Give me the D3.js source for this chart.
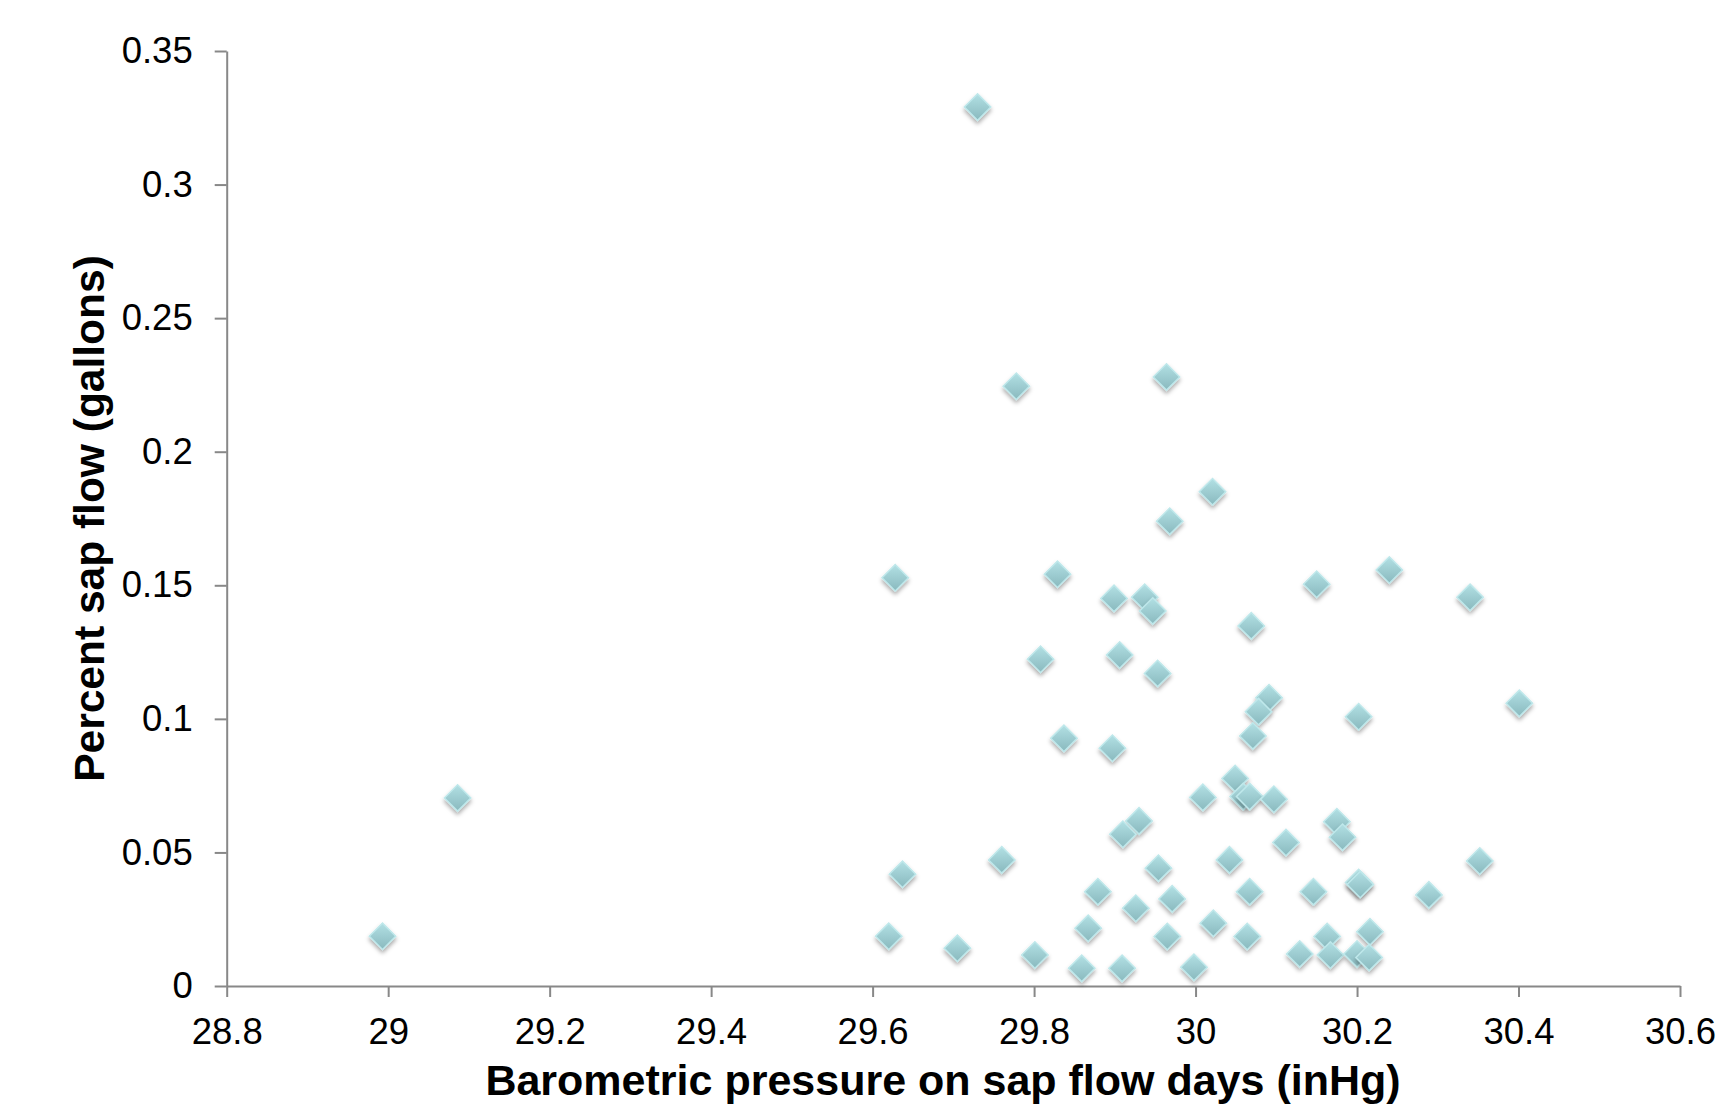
<!DOCTYPE html>
<html>
<head>
<meta charset="utf-8">
<script src="https://cdn.jsdelivr.net/npm/d3@7"></script>
<style>
  html, body { margin: 0; padding: 0; background: #fff; }
  svg { display: block; font-family: "Liberation Sans", Arial, sans-serif; }
</style>
</head>
<body>
<script>
'use strict';

// barometric pressure (inHg) for each sap flow day
const pressure = [
  29.730, 29.778, 29.964, 30.021, 29.968, 29.628, 29.829, 30.150, 30.240, 30.340,
  29.899, 29.937, 29.947, 30.069, 29.808, 29.906, 29.953, 30.091, 30.078, 30.401,
  30.202, 29.837, 30.071, 29.897, 29.086, 30.049, 30.009, 30.059, 30.067, 30.097,
  29.930, 29.910, 30.175, 30.182, 30.112, 29.760, 30.042, 30.352, 29.637, 29.954,
  30.202, 30.204, 29.879, 30.067, 30.146, 30.289, 29.971, 29.926, 30.022, 29.867,
  28.993, 29.620, 29.965, 30.064, 30.163, 30.216, 29.705, 29.801, 30.129, 30.167,
  30.200, 30.215, 29.859, 29.909, 29.998
];

// percent sap flow (gallons), same order
const sapFlow = [
  0.3290, 0.2245, 0.2280, 0.1850, 0.1740, 0.1528, 0.1541, 0.1504, 0.1557, 0.1455,
  0.1451, 0.1455, 0.1404, 0.1348, 0.1223, 0.1239, 0.1170, 0.1079, 0.1027, 0.1058,
  0.1008, 0.0927, 0.0936, 0.0890, 0.0704, 0.0777, 0.0706, 0.0709, 0.0709, 0.0699,
  0.0618, 0.0568, 0.0615, 0.0557, 0.0537, 0.0472, 0.0472, 0.0468, 0.0418, 0.0441,
  0.0387, 0.0380, 0.0353, 0.0353, 0.0353, 0.0341, 0.0326, 0.0291, 0.0235, 0.0216,
  0.0186, 0.0186, 0.0185, 0.0185, 0.0185, 0.0203, 0.0141, 0.0116, 0.0120, 0.0116,
  0.0120, 0.0107, 0.0066, 0.0066, 0.0070
];

const xTicks = [28.8, 29, 29.2, 29.4, 29.6, 29.8, 30, 30.2, 30.4, 30.6];
const xTickLabels = ['28.8', '29', '29.2', '29.4', '29.6', '29.8', '30', '30.2', '30.4', '30.6'];
const yTicks = [0, 0.05, 0.1, 0.15, 0.2, 0.25, 0.3, 0.35];
const yTickLabels = ['0', '0.05', '0.1', '0.15', '0.2', '0.25', '0.3', '0.35'];

const xTitle = 'Barometric pressure on sap flow days (inHg)';
const yTitle = 'Percent sap flow (gallons)';

(function() {
  const width = 1734, height = 1107;
  const left = 226.7, right = 1680, top = 51, bottom = 986;
  const axisColor = '#888888';

  const svg = d3.select('body').append('svg')
    .attr('width', width)
    .attr('height', height);

  // marker gradient + shadow
  const defs = svg.append('defs');
  const grad = defs.append('linearGradient')
    .attr('id', 'diamondFill')
    .attr('x1', 0).attr('y1', 0)
    .attr('x2', 1).attr('y2', 1);
  grad.append('stop').attr('offset', '0%').attr('stop-color', '#b2e0e4');
  grad.append('stop').attr('offset', '100%').attr('stop-color', '#89b9be');

  const shadow = defs.append('filter')
    .attr('id', 'shadow')
    .attr('x', '-50%').attr('y', '-50%')
    .attr('width', '200%').attr('height', '200%');
  shadow.append('feDropShadow')
    .attr('dx', 0).attr('dy', 3)
    .attr('stdDeviation', 2.2)
    .attr('flood-color', '#000')
    .attr('flood-opacity', 0.33);

  const xScale = d3.scaleLinear().domain([28.8, 30.6]).range([left, right]);
  const yScale = d3.scaleLinear().domain([0, 0.35]).range([bottom, top]);

  // y axis
  const yAxis = d3.axisLeft(yScale)
    .tickValues(yTicks)
    .tickFormat((d, i) => yTickLabels[i])
    .tickSize(12)
    .tickSizeOuter(0)
    .tickPadding(22);
  const gy = svg.append('g')
    .attr('transform', `translate(${left},0)`)
    .call(yAxis);

  // x axis
  const xAxis = d3.axisBottom(xScale)
    .tickValues(xTicks)
    .tickFormat((d, i) => xTickLabels[i])
    .tickSize(11)
    .tickSizeOuter(0)
    .tickPadding(21);
  const gx = svg.append('g')
    .attr('transform', `translate(0,${bottom})`)
    .call(xAxis);

  [gx, gy].forEach(g => {
    g.select('.domain').attr('stroke', axisColor).attr('stroke-width', 2);
    g.selectAll('.tick line').attr('stroke', axisColor).attr('stroke-width', 2);
    g.selectAll('.tick text')
      .attr('fill', '#000')
      .style('font-family', '"Liberation Sans", Arial, sans-serif')
      .style('font-size', '36.5px');
  });

  // axis titles
  svg.append('text')
    .attr('x', 943)
    .attr('y', 1095)
    .attr('text-anchor', 'middle')
    .style('font-size', '43px')
    .style('font-weight', 'bold')
    .text(xTitle);

  svg.append('text')
    .attr('transform', `translate(104,${(top + bottom) / 2})rotate(-90)`)
    .attr('text-anchor', 'middle')
    .style('font-size', '42.5px')
    .style('font-weight', 'bold')
    .text(yTitle);

  // points
  const points = pressure.map((p, i) => ({ x: p, y: sapFlow[i] }));
  const diamond = d3.symbol().type(d3.symbolSquare).size(350);

  const marks = svg.append('g').selectAll('.pt')
    .data(points)
    .enter()
    .append('g')
      .attr('class', 'pt')
      .attr('transform', d => `translate(${xScale(d.x)},${yScale(d.y)})`)
      .attr('filter', 'url(#shadow)');

  marks.append('path')
    .attr('d', diamond)
    .attr('transform', 'rotate(45)')
    .attr('fill', 'url(#diamondFill)')
    .attr('stroke', '#bfe8eb')
    .attr('stroke-width', 1.5);
})();
</script>
</body>
</html>
